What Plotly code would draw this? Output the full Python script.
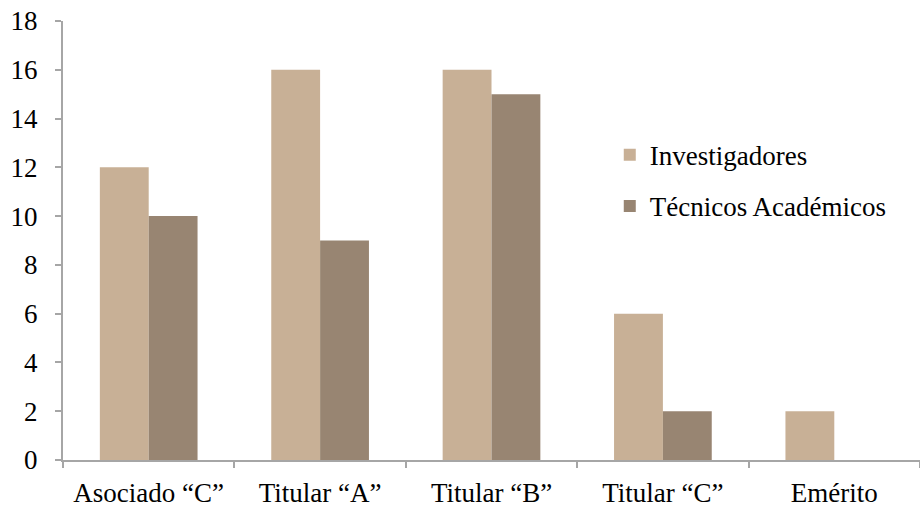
import plotly.graph_objects as go

categories = ["Asociado “C”", "Titular “A”", "Titular “B”", "Titular “C”", "Emérito"]
investigadores = [12, 16, 16, 6, 2]
tecnicos = [10, 9, 15, 2, 0]
y_ticks = list(range(0, 19, 2))

FONT = "serif"
AXIS = "#a6a6a6"
SIZE = 27

fig = go.Figure()
fig.add_trace(go.Bar(name="Investigadores", x=categories, y=investigadores,
                     marker=dict(color="#C8B096", line=dict(width=0)), legendgroup="a"))
fig.add_trace(go.Bar(name="Técnicos Académicos", x=categories, y=tecnicos,
                     marker=dict(color="#988572", line=dict(width=0)), legendgroup="b"))

fig.update_layout(
    width=920, height=511,
    margin=dict(l=63, r=0, t=21, b=51),
    paper_bgcolor="white", plot_bgcolor="white",
    font=dict(family=FONT, size=SIZE, color="black"),
    barmode="group", bargap=0.43, bargroupgap=0,
    showlegend=True,
    legend=dict(x=0.638, y=0.75, xanchor="left", yanchor="top",
                font=dict(family=FONT, size=SIZE), traceorder="grouped",
                tracegroupgap=13, bgcolor="rgba(0,0,0,0)", itemwidth=30),
    xaxis=dict(type="category", showgrid=False, showline=True, linecolor=AXIS, linewidth=2,
               ticks="outside", tickson="boundaries", ticklen=6, tickcolor=AXIS, tickwidth=2,
               range=[-0.5, 4.5], tickfont=dict(family=FONT, size=SIZE), zeroline=False,
               automargin=False, ticklabelstandoff=8),
    yaxis=dict(range=[0, 18], tickvals=y_ticks, showgrid=False, showline=True, linecolor=AXIS,
               linewidth=2, ticks="outside", ticklen=6, tickcolor=AXIS, tickwidth=2,
               tickfont=dict(family=FONT, size=SIZE), zeroline=False,
               automargin=False, ticklabeloverflow="allow", ticklabelstandoff=12),
)

fig.write_html("out.html",
               config={"displayModeBar": False},
               post_script="document.body.style.margin='0';document.body.style.padding='0';")
